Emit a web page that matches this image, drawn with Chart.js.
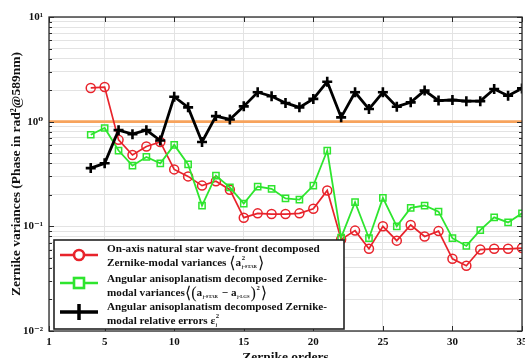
<!DOCTYPE html>
<html>
<head>
<meta charset="utf-8">
<script src="https://cdn.jsdelivr.net/npm/chart.js@4.4.1/dist/chart.umd.min.js"></script>
<style>
    html, body { margin: 0; padding: 0; background: #fff; overflow: hidden; }
    #wrap { position: relative; width: 535px; height: 366px; }
</style>
</head>
<body>
<div id="wrap"><canvas id="chart"></canvas></div>
<script>
// Zernike orders (x) and the three series
var orders = [4, 5, 6, 7, 8, 9, 10, 11, 12, 13, 14, 15, 16, 17, 18, 19, 20,
              21, 22, 23, 24, 25, 26, 27, 28, 29, 30, 31, 32, 33, 34, 35];

var starVariance = [2.1, 2.14, 0.67, 0.48, 0.58, 0.64, 0.35, 0.30, 0.245, 0.27, 0.224, 0.121,
                    0.133, 0.131, 0.131, 0.133, 0.147, 0.22, 0.075, 0.091, 0.061, 0.10, 0.073,
                    0.103, 0.08, 0.09, 0.049, 0.042, 0.06, 0.061, 0.061, 0.062];

var anisoVariance = [0.75, 0.87, 0.53, 0.38, 0.46, 0.40, 0.60, 0.39, 0.158, 0.305, 0.236, 0.165,
                     0.24, 0.228, 0.185, 0.18, 0.245, 0.53, 0.078, 0.17, 0.077, 0.187, 0.10,
                     0.15, 0.158, 0.138, 0.077, 0.065, 0.092, 0.122, 0.109, 0.133];

var relativeError = [0.36, 0.40, 0.83, 0.76, 0.83, 0.66, 1.73, 1.37, 0.64, 1.13, 1.05, 1.40,
                     1.91, 1.75, 1.51, 1.37, 1.65, 2.41, 1.10, 1.91, 1.32, 1.91, 1.39, 1.53,
                     1.98, 1.59, 1.61, 1.57, 1.57, 2.05, 1.77, 2.08];

// reference level (orange line)
var refLevel = 1;
var refRange = [1, 35];

var xTicks = [1, 5, 10, 15, 20, 25, 30, 35];
var yDecades = [0.01, 0.1, 1];
var yMax = 10;
var supDigits = { '-': '\u207B', '0': '\u2070', '1': '\u00B9', '2': '\u00B2' };

var SERIF = "'Liberation Serif', 'DejaVu Serif', serif";
var RED = '#e8232b';
var GREEN = '#2ee52e';
var BLACK = '#000000';
var ORANGE = '#f7a35c';

function toPoints(xs, ys){
    return xs.map(function(x, i){ return { x: x, y: ys[i] }; });
}

function yTickList(){
    var list = [];
    yDecades.forEach(function(d){
        for( var k = 1; k < 10; k++ ){
            list.push({ value: k * d });
        }
    });
    list.push({ value: yMax });
    return list;
}

function isDecade(v){
    var e = Math.log10(v);
    return Math.abs(e - Math.round(e)) < 1e-9;
}

function powLabel(v){
    if( !isDecade(v) ) return '';
    var s = String(Math.round(Math.log10(v))).split('').map(function(ch){ return supDigits[ch]; }).join('');
    return '10' + s;
}

// box around the plotting area with inward ticks (matlab style)
var boxPlugin = {
    id: 'axesBox',
    afterDatasetsDraw: function(chart){
        var a = chart.chartArea, c = chart.ctx;
        var xs = chart.scales.x, ys = chart.scales.y;
        c.save();
        c.strokeStyle = '#2a2a2a';
        c.lineWidth = 1;
        c.beginPath();
        ys.ticks.forEach(function(t){
            var py = Math.round(ys.getPixelForValue(t.value)) + 0.5;
            var len = isDecade(t.value) ? 5 : 3;
            c.moveTo(a.left, py); c.lineTo(a.left + len, py);
            c.moveTo(a.right, py); c.lineTo(a.right - len, py);
        });
        xs.ticks.forEach(function(t){
            var px = Math.round(xs.getPixelForValue(t.value)) + 0.5;
            c.moveTo(px, a.bottom); c.lineTo(px, a.bottom - 5);
            c.moveTo(px, a.top); c.lineTo(px, a.top + 5);
        });
        c.stroke();
        c.lineWidth = 1.3;
        c.strokeRect(a.left, a.top, a.right - a.left, a.bottom - a.top);
        c.restore();
    }
};

// rich text: strings are plain, {big: ch} is a tall bracket, {sup, sub} stacked scripts
function drawRich(c, parts, x, y, size){
    parts.forEach(function(p){
        if( typeof p === 'string' ){
            c.font = 'bold ' + size + 'px ' + SERIF;
            c.fillText(p, x, y);
            x += c.measureText(p).width;
        } else if( p.big ){
            c.font = (size * 1.45) + 'px ' + SERIF;
            c.fillText(p.big, x, y + 0.5);
            x += c.measureText(p.big).width;
        } else {
            var w = 0;
            c.font = 'bold ' + (size * 0.6) + 'px ' + SERIF;
            if( p.sup ){
                c.fillText(p.sup, x + 0.5, y - size * 0.42);
                w = c.measureText(p.sup).width + 0.5;
            }
            if( p.sub ){
                c.font = 'bold ' + (size * 0.42) + 'px ' + SERIF;
                c.fillText(p.sub, x + 0.5, y + size * 0.38);
                w = Math.max(w, c.measureText(p.sub).width + 0.5);
            }
            x += w + 1;
        }
    });
}

var legendLines = [
    ['On-axis natural star wave-front decomposed'],
    ['Zernike-modal variances ', { big: '\u27E8' }, 'a', { sup: '2', sub: 'j-STAR' }, { big: '\u27E9' }],
    ['Angular anisoplanatism decomposed Zernike-'],
    ['modal variances', { big: '\u27E8' }, { big: '(' }, 'a', { sub: 'j-STAR' }, ' \u2212 a', { sub: 'j-LGS' },
        { big: ')' }, { sup: '2' }, { big: '\u27E9' }],
    ['Angular anisoplanatism decomposed Zernike-'],
    ['modal relative errors ', '\u03B5', { sup: '2', sub: 'j' }]
];
var legendLineY = [249, 263, 279, 293, 307, 321];

var legendPlugin = {
    id: 'boxLegend',
    afterDraw: function(chart){
        var c = chart.ctx;
        var bx = 54, by = 240, bw = 290, bh = 89;
        c.save();
        c.fillStyle = '#fff';
        c.fillRect(bx, by, bw, bh);
        c.strokeStyle = '#222';
        c.lineWidth = 1.6;
        c.strokeRect(bx, by, bw, bh);

        // symbols
        var sx0 = 60, sx1 = 98, sxm = 79;
        c.lineWidth = 2.6;
        c.strokeStyle = RED;
        c.beginPath(); c.moveTo(sx0, 255); c.lineTo(sx1, 255); c.stroke();
        c.beginPath(); c.arc(sxm, 255, 5, 0, Math.PI * 2); c.fillStyle = '#fff'; c.fill(); c.stroke();

        c.strokeStyle = GREEN;
        c.beginPath(); c.moveTo(sx0, 283); c.lineTo(sx1, 283); c.stroke();
        c.fillStyle = '#fff';
        c.fillRect(sxm - 5, 278, 10, 10);
        c.strokeRect(sxm - 5, 278, 10, 10);

        c.strokeStyle = BLACK;
        c.lineWidth = 3.5;
        c.beginPath(); c.moveTo(sx0, 312); c.lineTo(sx1, 312); c.stroke();
        c.beginPath(); c.moveTo(sxm, 304); c.lineTo(sxm, 320); c.stroke();

        // text, sized so the first line spans the same width as in the figure
        c.font = 'bold 12px ' + SERIF;
        var w12 = c.measureText(legendLines[0][0]).width;
        var size = 12 * 213 / w12;
        c.fillStyle = '#111';
        c.textBaseline = 'middle';
        legendLines.forEach(function(parts, i){
            drawRich(c, parts, 107, legendLineY[i], size);
        });
        c.restore();
    }
};

var tickFont = { family: SERIF, size: 11, weight: 'bold' };
var titleFont = { family: SERIF, size: 13.5, weight: 'bold' };

new Chart(document.getElementById('chart'), {
    type: 'line',
    data: {
        datasets: [
            {
                label: 'reference',
                data: toPoints(refRange, refRange.map(function(){ return refLevel; })),
                borderColor: ORANGE,
                borderWidth: 2.6,
                pointRadius: 0,
                order: 4
            },
            {
                label: 'On-axis natural star',
                data: toPoints(orders, starVariance),
                borderColor: RED,
                borderWidth: 1.7,
                pointStyle: 'circle',
                pointRadius: 4.5,
                pointBorderWidth: 1.5,
                pointBorderColor: RED,
                pointBackgroundColor: 'rgba(255,255,255,0)',
                order: 3
            },
            {
                label: 'Angular anisoplanatism variances',
                data: toPoints(orders, anisoVariance),
                borderColor: GREEN,
                borderWidth: 1.8,
                pointStyle: 'rect',
                pointRadius: 4.4,
                pointBorderWidth: 1.5,
                pointBorderColor: GREEN,
                pointBackgroundColor: 'rgba(255,255,255,0)',
                order: 2
            },
            {
                label: 'Angular anisoplanatism relative errors',
                data: toPoints(orders, relativeError),
                borderColor: BLACK,
                borderWidth: 2.8,
                pointStyle: 'cross',
                pointRadius: 5,
                pointBorderWidth: 2.6,
                pointBorderColor: BLACK,
                order: 1
            }
        ]
    },
    options: {
        responsive: true,
        maintainAspectRatio: false,
        animation: false,
        layout: { padding: { left: 0, right: 13, top: 17, bottom: 0 } },
        plugins: {
            legend: { display: false },
            tooltip: { enabled: false }
        },
        scales: {
            x: {
                type: 'linear',
                min: 1,
                max: 35,
                afterBuildTicks: function(s){ s.ticks = xTicks.map(function(v){ return { value: v }; }); },
                afterFit: function(s){ s.height = 35; },
                grid: { color: '#e3e3e3', lineWidth: 1, drawTicks: false },
                border: { display: false },
                ticks: { padding: 5, color: '#111', font: tickFont, maxRotation: 0, autoSkip: false },
                title: { display: true, text: 'Zernike orders', color: '#111', font: titleFont, padding: 0 }
            },
            y: {
                type: 'logarithmic',
                min: 0.01,
                max: yMax,
                afterBuildTicks: function(s){ s.ticks = yTickList(); },
                afterFit: function(s){ s.width = 49; },
                grid: { color: '#e3e3e3', lineWidth: 1, drawTicks: false },
                border: { display: false },
                ticks: {
                    padding: 6,
                    color: '#111',
                    font: tickFont,
                    autoSkip: false,
                    callback: function(v){ return powLabel(v); }
                },
                title: {
                    display: true,
                    text: 'Zernike variances (Phase in rad\u00B2@589nm)',
                    color: '#111',
                    font: titleFont,
                    padding: { top: 8, bottom: 0 }
                }
            }
        }
    },
    plugins: [boxPlugin, legendPlugin]
});
</script>
</body>
</html>
